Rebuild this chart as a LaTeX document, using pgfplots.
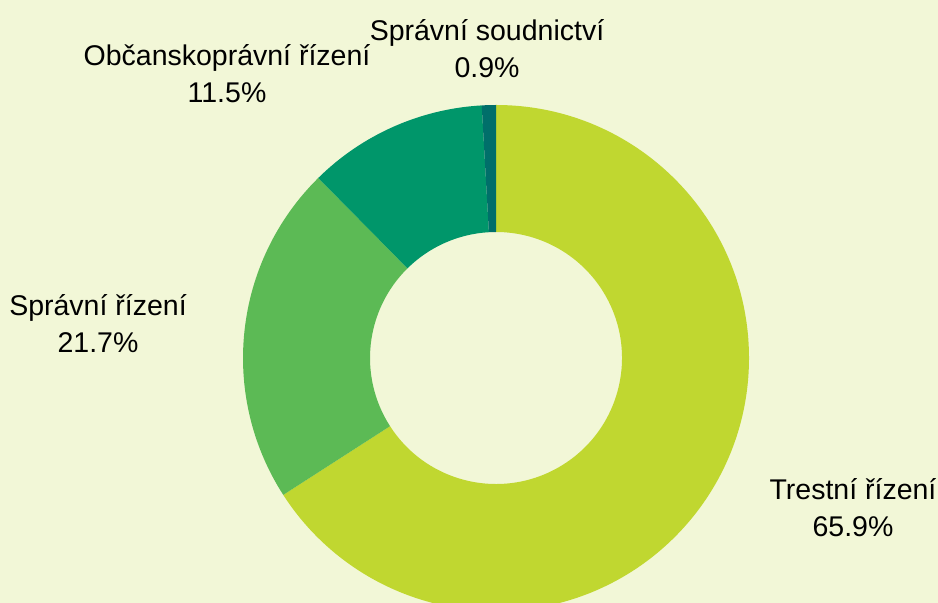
\documentclass[border=0pt]{standalone}
\usepackage{fontspec}
\setmainfont{Liberation Sans}
\usepackage{pgfplots}
\usepackage{pgfplotstable}
\pgfplotsset{compat=1.18}
\definecolor{bgcol}{HTML}{F2F7D7}
\definecolor{cA}{HTML}{C0D730}
\definecolor{cB}{HTML}{5CBA55}
\definecolor{cC}{HTML}{00966A}
\definecolor{cD}{HTML}{006F6A}

\pgfplotstableread{
value
65.9
21.7
11.5
0.9
}\slices

\begin{document}
\begin{tikzpicture}
\pgfplotstablegetelem{0}{value}\of\slices \edef\vA{\pgfplotsretval}
\pgfplotstablegetelem{1}{value}\of\slices \edef\vB{\pgfplotsretval}
\pgfplotstablegetelem{2}{value}\of\slices \edef\vC{\pgfplotsretval}
\pgfplotstablegetelem{3}{value}\of\slices \edef\vD{\pgfplotsretval}
\pgfmathsetmacro\aA{90}
\pgfmathsetmacro\aB{\aA-3.6*\vA}
\pgfmathsetmacro\aC{\aB-3.6*\vB}
\pgfmathsetmacro\aD{\aC-3.6*\vC}
\pgfmathsetmacro\aE{\aD-3.6*\vD}
\newcommand\slice[3]{%
  \fill[#1] (axis cs:496,245) ++(#2:253bp) arc[start angle=#2,end angle=#3,radius=253bp]
    -- ([shift={(#3:126bp)}]axis cs:496,245) arc[start angle=#3,end angle=#2,radius=126bp] -- cycle;}
\begin{axis}[
  scale only axis,width=938bp,height=603bp,
  xmin=0,xmax=938,ymin=0,ymax=603,
  hide axis,clip=true
]
\fill[bgcol] (axis cs:0,0) rectangle (axis cs:938,603);
\slice{cA}{\aA}{\aB}
\slice{cB}{\aB}{\aC}
\slice{cC}{\aC}{\aD}
\slice{cD}{\aD}{\aE}
\tikzset{lab/.style={align=center,font=\fontsize{28.5bp}{37bp}\selectfont,text=black}}
\node[lab] at (axis cs:853,95) {Trestní řízení\\65.9\%};
\node[lab] at (axis cs:98,279) {Správní řízení\\21.7\%};
\node[lab] at (axis cs:227,529) {Občanskoprávní řízení\\11.5\%};
\node[lab] at (axis cs:487,554.5) {Správní soudnictví\\0.9\%};
\end{axis}
\pgfresetboundingbox
\path[use as bounding box] (0,0) rectangle (938bp,603bp);
\end{tikzpicture}
\end{document}
